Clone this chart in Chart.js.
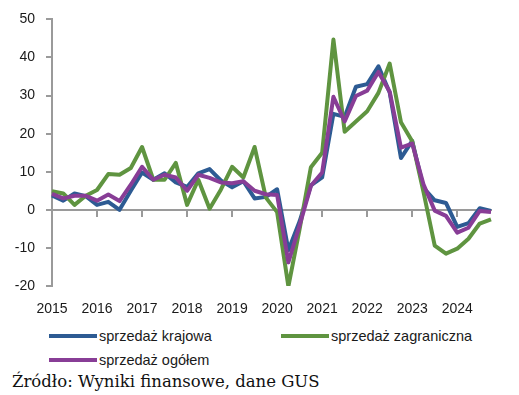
<!DOCTYPE html>
<html>
<head>
<meta charset="utf-8">
<script src="https://cdn.jsdelivr.net/npm/chart.js@4/dist/chart.umd.min.js"></script>
<style>
  body { margin: 0; background: #fff; width: 519px; height: 395px; position: relative; overflow: hidden; }
  #box { position: absolute; left: 0; top: 0; width: 519px; height: 320px; }
  .item { position: absolute; font-family: "Liberation Sans", Arial, sans-serif; font-size: 14.5px; color: #1a1a1a; white-space: nowrap; }
  .item span { display: inline-block; width: 48px; height: 4px; vertical-align: middle; margin-right: 2px; position: relative; top: -1px; }
  #source { position: absolute; left: 12px; top: 372px; font-family: "DejaVu Serif", serif; font-size: 16.5px; color: #111; white-space: nowrap; }
</style>
</head>
<body>
<div id="box"><canvas id="canvas"></canvas></div>
<div id="legend"></div>
<div id="source">Źródło: Wyniki finansowe, dane GUS</div>
<script>
// Quarterly data, 2015 Q1 - 2024 Q4 (r/r, %)
const years = ["2015", "2016", "2017", "2018", "2019", "2020", "2021", "2022", "2023", "2024"];

const salesDomestic = [
  3.8, 2.4, 4.3, 3.6, 1.3, 2.1, 0.0, 5.0, 9.8, 7.9,
  9.6, 7.2, 6.0, 9.6, 10.7, 7.7, 5.9, 7.5, 3.0, 3.4,
  5.4, -10.6, -3.0, 6.4, 8.5, 25.2, 24.4, 32.3, 33.0, 37.7,
  30.8, 13.6, 18.1, 5.8, 2.5, 1.8, -4.5, -3.5, 0.4, -0.3
];
const salesForeign = [
  4.9, 4.3, 1.3, 3.7, 5.2, 9.4, 9.2, 11.0, 16.5, 7.9,
  7.9, 12.3, 1.3, 7.9, 0.3, 5.3, 11.3, 8.5, 16.5, 3.2,
  -0.6, -20.1, -5.0, 11.2, 15.0, 44.7, 20.5, 23.2, 25.9, 30.7,
  38.4, 23.0, 18.0, 4.7, -9.4, -11.5, -10.2, -7.6, -3.6, -2.5
];
const salesTotal = [
  4.2, 3.0, 3.7, 3.7, 2.4, 4.0, 2.3, 6.6, 11.3, 7.9,
  9.2, 8.5, 5.0, 9.2, 8.4, 7.2, 7.0, 7.5, 5.0, 4.1,
  3.9, -13.8, -4.0, 6.3, 9.8, 29.7, 23.2, 29.9, 31.3, 36.2,
  31.0, 16.3, 17.4, 6.7, -0.2, -1.6, -6.0, -4.7, -0.3, -0.6
];

const seriesNames = ["sprzedaż krajowa", "sprzedaż zagraniczna", "sprzedaż ogółem"];
const seriesColors = ["#2d5b93", "#5f9440", "#883d96"];

// category labels: one per quarter
const quarters = [];
years.forEach((y) => {
  for (let q = 1; q <= 4; q++) quarters.push(y + " Q" + q);
});

const axisGray = "#9a9a9a";
const font = { family: "'Liberation Sans', Arial, sans-serif", size: 14 };

function buildDataset(i, values, order) {
  return {
    label: seriesNames[i],
    data: values,
    borderColor: seriesColors[i],
    backgroundColor: seriesColors[i],
    borderWidth: 4,
    pointRadius: 0,
    tension: 0,
    borderJoinStyle: "round",
    fill: false,
    order: order
  };
}

const config = {
  type: "line",
  data: {
    labels: quarters,
    datasets: [
      buildDataset(0, salesDomestic, 3),
      buildDataset(1, salesForeign, 2),
      buildDataset(2, salesTotal, 1)
    ]
  },
  options: {
    responsive: true,
    maintainAspectRatio: false,
    animation: false,
    layout: { padding: { left: 0, right: 28, top: 11, bottom: 0 } },
    plugins: { legend: { display: false }, tooltip: { enabled: false } },
    scales: {
      x: {
        type: "category",
        position: "bottom",
        offset: false,
        grid: { display: false },
        border: { display: false },
        ticks: {
          autoSkip: false,
          maxRotation: 0,
          padding: 7,
          color: "#1a1a1a",
          font: font,
          callback: (v, i) => (i % 4 === 0 ? quarters[i].slice(0, 4) : "")
        },
        afterFit: (s) => { s.height = 34; }
      },
      zero: {
        type: "category",
        axis: "x",
        position: { y: 0 },
        offset: false,
        grid: {
          display: true,
          drawOnChartArea: false,
          drawTicks: true,
          tickLength: 6,
          lineWidth: 2,
          color: (ctx) => (ctx.index % 4 === 0 ? axisGray : "rgba(0,0,0,0)")
        },
        border: { display: true, color: axisGray, width: 2 },
        ticks: { display: false, autoSkip: false }
      },
      y: {
        min: -20,
        max: 50,
        grid: { drawOnChartArea: false, drawTicks: true, tickLength: 6, color: axisGray, lineWidth: 2 },
        border: { display: true, color: axisGray, width: 2 },
        ticks: { stepSize: 10, padding: 11, color: "#1a1a1a", font: font },
        afterFit: (s) => { s.width = 52; }
      }
    }
  }
};

function publishChart() {
  const ctx = document.getElementById("canvas").getContext("2d");
  window.myLine = new Chart(ctx, config);
}

function buildLegend() {
  const spots = [[49, 328], [281, 328], [49, 352]];
  const legend = document.getElementById("legend");
  seriesNames.forEach((name, i) => {
    const div = document.createElement("div");
    div.className = "item";
    div.style.left = spots[i][0] + "px";
    div.style.top = spots[i][1] + "px";
    div.innerHTML = '<span style="background:' + seriesColors[i] + '"></span>' + name;
    legend.appendChild(div);
  });
}

buildLegend();
publishChart();
</script>
</body>
</html>
